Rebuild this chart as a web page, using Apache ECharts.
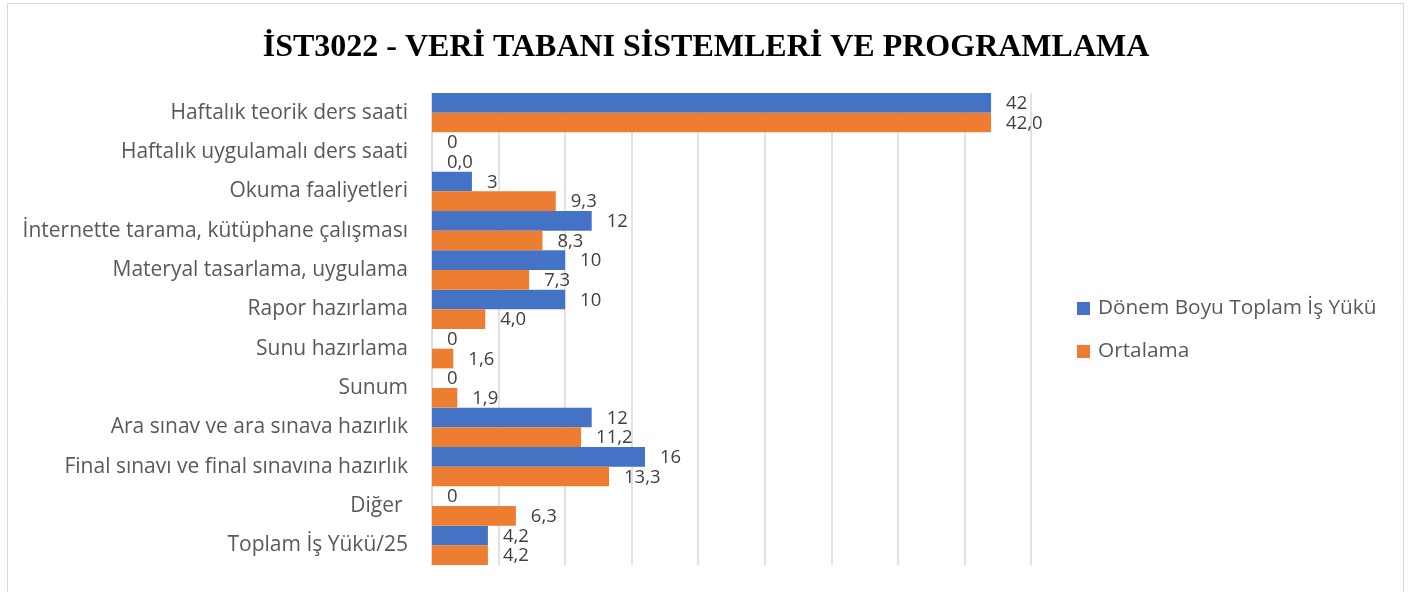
<!DOCTYPE html>
<html><head><meta charset="utf-8">
<script src="https://cdn.jsdelivr.net/npm/echarts@6/dist/echarts.min.js"></script>
<style>html,body{margin:0;padding:0;background:#fff}#c{width:1412px;height:592px}</style>
</head><body><div id="c"></div>
<script>
const titleText = "İST3022 - VERİ TABANI SİSTEMLERİ VE PROGRAMLAMA";
const categories = ["Haftalık teorik ders saati","Haftalık uygulamalı ders saati","Okuma faaliyetleri","İnternette tarama, kütüphane çalışması","Materyal tasarlama, uygulama","Rapor hazırlama","Sunu hazırlama","Sunum","Ara sınav ve ara sınava hazırlık","Final sınavı ve final sınavına hazırlık","Diğer ","Toplam İş Yükü/25"];
const seriesNames = ["Dönem Boyu Toplam İş Yükü","Ortalama"];
const toplamValues = [42,0,3,12,10,10,0,0,12,16,0,4.2];
const ortalamaValues = [42.0,0.0,9.3,8.3,7.3,4.0,1.6,1.9,11.2,13.3,6.3,4.2];
const axisMin = 0, axisMax = 45, axisStep = 5;

const chart = echarts.init(document.getElementById('c'));
const font = "'Open Sans', 'Noto Sans', sans-serif";
const lbl = (fmt) => ({show:true, position:'right', distance:15, color:'#404040', fontFamily:font, fontSize:18.5, offset:[0,1], formatter:fmt});
chart.setOption({
  animation:false,
  backgroundColor:'#fff',
  graphic:[{type:'rect', shape:{x:7.5,y:3.5,width:1396,height:600}, style:{fill:'none', stroke:'#d9d9d9', lineWidth:1}, silent:true}],
  title:{text:titleText, left:'center', top:27, textStyle:{fontFamily:"'Liberation Serif', 'DejaVu Serif', serif", fontWeight:'bold', fontSize:32, color:'#000'}},
  legend:{orient:'vertical', left:1072, top:293, itemWidth:13, itemHeight:13, itemGap:22, icon:'rect',
    textStyle:{fontFamily:font, fontSize:20.8, color:'#595959', padding:[0,0,0,3]}, data:seriesNames},
  grid:{left:432, right:381, top:93, bottom:27, containLabel:false},
  xAxis:{type:'value', min:axisMin, max:axisMax, interval:axisStep,
    axisLabel:{show:false}, axisLine:{show:false}, axisTick:{show:false},
    splitLine:{show:true, lineStyle:{color:'#d9d9d9', width:1.5}}},
  yAxis:{type:'category', data:categories, inverse:true,
    axisLine:{show:true, lineStyle:{color:'#d9d9d9', width:1.5}}, axisTick:{show:false},
    axisLabel:{margin:24, color:'#595959', fontFamily:font, fontSize:21}},
  series:[
    {name:seriesNames[0], type:'bar', data:toplamValues, barGap:'0%', barCategoryGap:'0%',
      itemStyle:{color:'#4472C4'}, label:lbl(p => String(p.value).replace('.', ','))},
    {name:seriesNames[1], type:'bar', data:ortalamaValues, barGap:'0%', barCategoryGap:'0%',
      itemStyle:{color:'#ED7D31'}, label:lbl(p => p.value.toFixed(1).replace('.', ','))}
  ]
});
</script></body></html>
